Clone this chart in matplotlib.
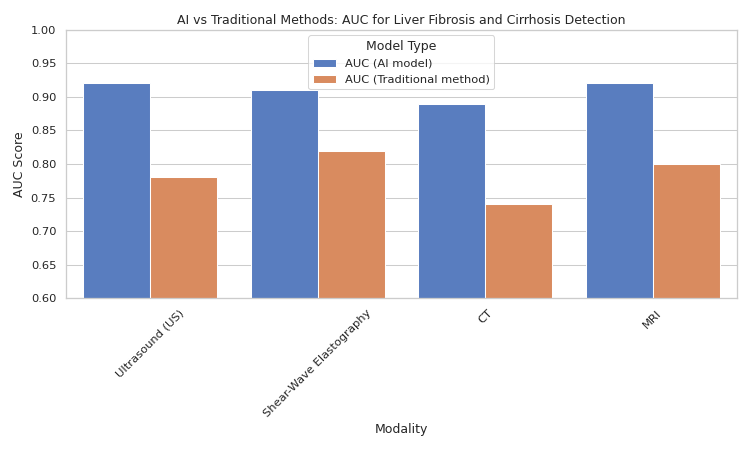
import matplotlib
matplotlib.use('Agg')
import matplotlib.pyplot as plt
import pandas as pd
import seaborn as sns

modalities = ['Ultrasound (US)', 'Shear-Wave Elastography', 'CT', 'MRI']
auc_ai = [0.92, 0.91, 0.89, 0.92]
auc_trad = [0.78, 0.82, 0.74, 0.80]
series_names = ['AUC (AI model)', 'AUC (Traditional method)']

df = pd.DataFrame({
    'Modality': modalities * 2,
    'AUC Score': auc_ai + auc_trad,
    'Model Type': [series_names[0]] * 4 + [series_names[1]] * 4,
})

sns.set_theme(style='whitegrid', palette='muted')

# drawn at 10x6 inches, saved at 75 dpi -> 750x450
fig, ax = plt.subplots(figsize=(10, 6), dpi=75)
sns.barplot(data=df, x='Modality', y='AUC Score', hue='Model Type', ax=ax)

ax.set_ylim(0.6, 1.0)
ax.set_title('AI vs Traditional Methods: AUC for Liver Fibrosis and Cirrhosis Detection')
plt.setp(ax.get_xticklabels(), rotation=45)
ax.legend(title='Model Type', loc='upper center')

fig.tight_layout()
fig.savefig('out.png', dpi=75)
